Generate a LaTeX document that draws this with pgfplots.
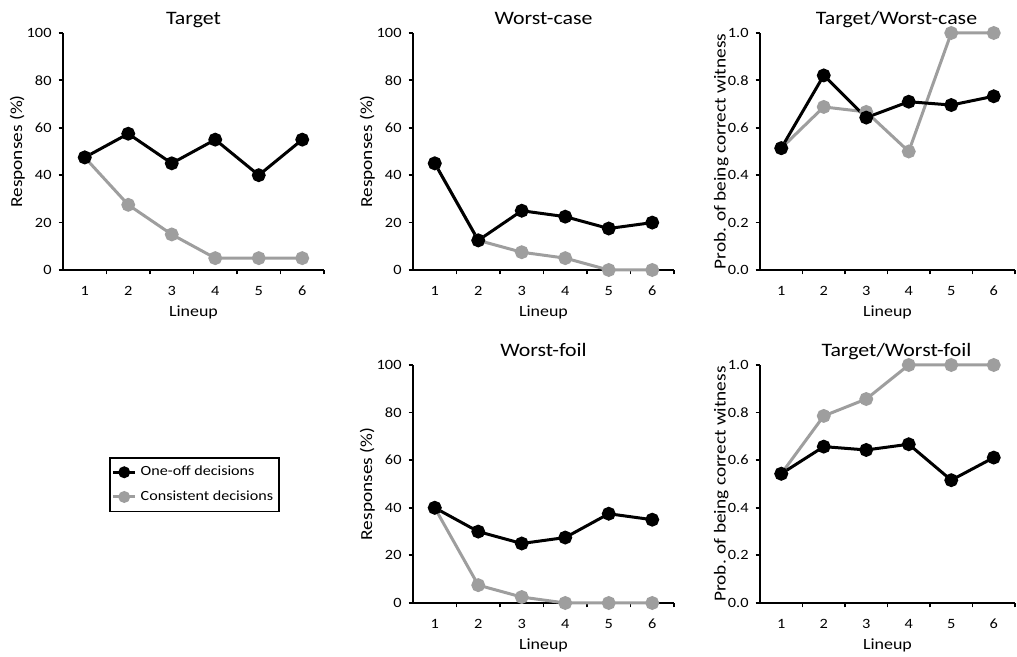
\documentclass[border=0pt]{standalone}
\usepackage{pgfplots}
\pgfplotsset{compat=1.18}
\usepackage{fontspec}
\setmainfont{Carlito}[FakeStretch=1.15]
\definecolor{consist}{RGB}{158,158,158}

\pgfplotsset{
  every axis title shift=0pt,
  panel/.style={
    scale only axis,
    height=118.5pt,
    clip=false,
    axis lines*=left,
    axis line style={line width=0.9pt},
    every tick/.style={line width=0.9pt,black},
    tick align=outside,
    major tick length=2.2pt,
    xmin=0.5, xmax=6.5,
    xtick={1.5,2.5,3.5,4.5,5.5,6.5},
    xticklabels={{},{},{},{},{},{}},
    extra x ticks={1,2,3,4,5,6},
    extra x tick labels={1,2,3,4,5,6},
    extra x tick style={major tick length=0pt},
    /pgf/number format/assume math mode=true,
    tick label style={font=\fontsize{7.1}{8}\selectfont},
    xticklabel style={yshift=-4.5pt},
    xlabel={Lineup},
    xlabel style={font=\fontsize{7.8}{9}\selectfont,at={(axis description cs:0.5,-0.18)},anchor=center},
    ylabel style={font=\fontsize{8.4}{10}\selectfont},
    title style={font=\fontsize{9.5}{11}\selectfont,at={(axis description cs:0.5,1)},anchor=base,yshift=4.0pt},
  },
  resp/.style={panel, width=130.5pt, ymin=0, ymax=100, ytick={0,20,40,60,80,100},
    ylabel={Responses (\%)},
    ylabel style={at={(axis description cs:-0.175,0.5)},anchor=center}},
  prob/.style={panel, width=127.5pt, ymin=0, ymax=1, ytick={0,0.2,0.4,0.6,0.8,1},
    yticklabel style={/pgf/number format/.cd,fixed,fixed zerofill,precision=1},
    ylabel={Prob. of being correct witness},
    ylabel style={at={(axis description cs:-0.152,0.5)},anchor=center}},
  oneoff/.style={black, line width=1.5pt, mark=*, mark size=2.7pt, mark options={solid}},
  consistent/.style={consist, line width=1.5pt, mark=*, mark size=2.7pt, mark options={solid}},
}

\begin{document}
\begin{tikzpicture}
\useasboundingbox (0,0) rectangle (508.5pt,328.5pt);

% Target
\begin{axis}[resp, at={(31.5pt,193.5pt)}, anchor=south west, title={Target}]
\addplot[consistent] coordinates {(1,47.5) (2,27.5) (3,15) (4,5) (5,5) (6,5)};
\addplot[oneoff] coordinates {(1,47.5) (2,57.5) (3,45) (4,55) (5,40) (6,55)};
\end{axis}

% Worst-case
\begin{axis}[resp, at={(206.5pt,193.5pt)}, anchor=south west, title={Worst-case}]
\addplot[consistent] coordinates {(1,45) (2,12.5) (3,7.5) (4,5) (5,0) (6,0)};
\addplot[oneoff] coordinates {(1,45) (2,12.5) (3,25) (4,22.5) (5,17.5) (6,20)};
\end{axis}

% Target/Worst-case
\begin{axis}[prob, at={(380pt,193.5pt)}, anchor=south west, title={Target/Worst-case},
  title style={xshift=4.5pt}]
\addplot[consistent] coordinates {(1,0.514) (2,0.688) (3,0.667) (4,0.5) (5,1) (6,1)};
\addplot[oneoff] coordinates {(1,0.514) (2,0.821) (3,0.643) (4,0.710) (5,0.696) (6,0.733)};
\end{axis}

% Worst-foil (carries the legend)
\begin{axis}[resp, at={(206.5pt,27pt)}, anchor=south west, height=119pt, title={Worst-foil},
  reverse legend,
  legend style={at={(-1.165,0.613)}, anchor=north west, draw=black, line width=0.8pt,
    font=\fontsize{7.0}{8.5}\selectfont, inner xsep=1pt, inner ysep=2pt,
    row sep=2pt, cells={anchor=west}},
  legend image code/.code={\draw[mark repeat=2,mark phase=2,mark size=2.2pt]
     plot coordinates {(0pt,0pt) (5.5pt,0pt) (11pt,0pt)};}]
\addplot[consistent] coordinates {(1,40) (2,7.5) (3,2.5) (4,0) (5,0) (6,0)};
\addlegendentry{Consistent decisions}
\addplot[oneoff] coordinates {(1,40) (2,30) (3,25) (4,27.5) (5,37.5) (6,35)};
\addlegendentry{One-off decisions}
\end{axis}

% Target/Worst-foil
\begin{axis}[prob, at={(380pt,27pt)}, anchor=south west, height=119pt, title={Target/Worst-foil},
  title style={xshift=4.5pt}]
\addplot[consistent] coordinates {(1,0.543) (2,0.786) (3,0.857) (4,1) (5,1) (6,1)};
\addplot[oneoff] coordinates {(1,0.543) (2,0.657) (3,0.643) (4,0.667) (5,0.516) (6,0.611)};
\end{axis}
\end{tikzpicture}
\end{document}
